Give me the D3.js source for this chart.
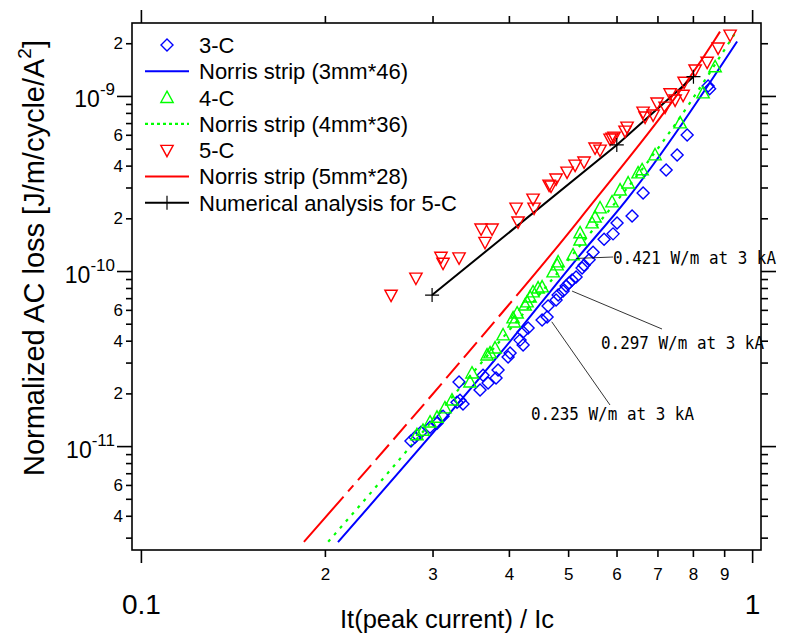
<!DOCTYPE html>
<html><head><meta charset="utf-8">
<script src="https://cdn.jsdelivr.net/npm/d3@7"></script>
<style>
body{margin:0;background:#fff}
svg{display:block}
text{font-family:"Liberation Sans",Arial,sans-serif;fill:#000}
</style>
</head><body>
<svg id="c" width="787" height="635"></svg>
<script>
// ---------------- data ----------------
const xMajorTicks = [0.1, 1];
const xMajorLabels = ["0.1", "1"];
const xMinorTicks = [0.2, 0.3, 0.4, 0.5, 0.6, 0.7, 0.8, 0.9];
const xMinorLabels = ["2", "3", "4", "5", "6", "7", "8", "9"];
const yMajorTicks = [1e-11, 1e-10, 1e-9];
const yMajorExponents = ["-11", "-10", "-9"];
const yMinorTicks = [3e-12,4e-12,5e-12,6e-12,7e-12,8e-12,9e-12,
  2e-11,3e-11,4e-11,5e-11,6e-11,7e-11,8e-11,9e-11,
  2e-10,3e-10,4e-10,5e-10,6e-10,7e-10,8e-10,9e-10,2e-9];
const yMinorLabels = ["","4","","6","","","",
  "2","","4","","6","","","",
  "2","","4","","6","","","",
  "2"];

// 3-C (diamonds)
const c3x = [0.8472,0.852,0.7829,0.7539,0.7233,0.6632,0.6362,0.6012,0.5922,0.5725,0.5493,0.5411,0.5309,0.5270,0.5152,0.5075,0.5018,0.4962,0.4906,0.4815,0.4778,0.4636,0.4619,0.4533,0.4300,0.4220,0.4172,0.4220,0.4018,0.3988,0.3840,0.3629,0.3698,0.3811,0.3588,0.3315,0.3327,0.3365,0.3290,0.3121,0.3051,0.2972,0.2872,0.2808,0.2766];
const c3y = [1.14e-9,1.10e-9,5.98e-10,4.60e-10,3.78e-10,2.79e-10,2.06e-10,1.88e-10,1.63e-10,1.52e-10,1.28e-10,1.16e-10,1.08e-10,1.04e-10,9.24e-11,8.88e-11,8.54e-11,8.21e-11,7.68e-11,7.29e-11,6.83e-11,6.31e-11,5.46e-11,5.25e-11,4.72e-11,4.48e-11,4.03e-11,3.78e-11,3.40e-11,3.23e-11,2.72e-11,2.54e-11,2.29e-11,2.45e-11,2.09e-11,2.32e-11,1.83e-11,1.74e-11,1.78e-11,1.48e-11,1.35e-11,1.28e-11,1.20e-11,1.125e-11,1.07e-11];

// 4-C (up triangles)
const c4x = [0.8698,0.8313,0.7625,0.6937,0.6607,0.6508,0.6268,0.6081,0.5900,0.5639,0.5534,0.5472,0.5230,0.5230,0.5094,0.4815,0.4797,0.4725,0.4533,0.4465,0.4381,0.4332,0.4284,0.4252,0.4126,0.4064,0.4080,0.3913,0.3797,0.3726,0.3684,0.3481,0.3455,0.3228,0.3144,0.3051,0.2972,0.2894,0.2829];
const c4y = [1.465e-9,1.04e-9,7.01e-10,4.60e-10,3.78e-10,3.63e-10,3.18e-10,2.90e-10,2.48e-10,2.29e-10,2.03e-10,1.88e-10,1.65e-10,1.50e-10,1.235e-10,1.126e-10,1.082e-10,9.87e-11,8.10e-11,7.99e-11,7.59e-11,7.10e-11,6.65e-11,6.39e-11,5.75e-11,5.39e-11,5.11e-11,4.31e-11,3.63e-11,3.40e-11,3.31e-11,2.61e-11,2.32e-11,1.83e-11,1.65e-11,1.46e-11,1.37e-11,1.23e-11,1.16e-11];

// 5-C (down triangles)
const c5x = [0.2566,0.2818,0.3097,0.3121,0.3315,0.3602,0.3754,0.3656,0.4110,0.4140,0.4381,0.4398,0.4654,0.4688,0.4778,0.4980,0.5133,0.5309,0.5534,0.5639,0.5856,0.5900,0.5944,0.6196,0.6243,0.6632,0.6682,0.6887,0.6991,0.7205,0.7342,0.7482,0.7711,0.7740,0.8067,0.8440,0.8797,0.9204];
const c5y = [7.29e-11,9.12e-11,1.20e-10,1.11e-10,1.19e-10,1.74e-10,1.74e-10,1.46e-10,2.29e-10,1.91e-10,2.58e-10,2.29e-10,3.10e-10,3.06e-10,3.36e-10,3.68e-10,4.03e-10,4.20e-10,5.05e-10,4.91e-10,5.68e-10,5.75e-10,5.83e-10,6.31e-10,6.65e-10,8.10e-10,7.59e-10,7.79e-10,9.12e-10,8.65e-10,1.03e-9,9.49e-10,1.01e-9,1.20e-9,1.41e-9,1.56e-9,1.88e-9,2.23e-9];

// Norris strip curves
const n3x = [0.2101,0.3913,0.5164,0.6235,0.945];
const n3y = [2.83e-12,3.54e-11,1.171e-10,2.56e-10,2.048e-9];
const n4x = [0.2025,0.2587,0.3245,0.5,0.7433,0.944];
const n4y = [2.84e-12,7.62e-12,1.943e-11,1.156e-10,6.65e-10,2.367e-9];
const n5x = [0.1848,0.2144,0.2556,0.3349,0.5231,0.8643,0.886];
const n5y = [2.84e-12,5.13e-12,1.035e-11,3.10e-11,1.995e-10,2.035e-9,2.33e-9];

// Numerical analysis for 5-C
const numx = [0.2995,0.6006,0.8017];
const numy = [7.29e-11,5.25e-10,1.289e-9];

const legendLabels = ["3-C","Norris strip (3mm*46)","4-C","Norris strip (4mm*36)","5-C","Norris strip (5mm*28)","Numerical analysis for 5-C"];
const notes = ["0.421 W/m at 3 kA","0.297 W/m at 3 kA","0.235 W/m at 3 kA"];
const noteAnchorX = [0.5164,0.5075,0.4701];
const noteAnchorY = [1.18e-10,7.68e-11,5.13e-11];

// ---------------- drawing ----------------
const svg = d3.select("#c");
const L=132, R=761, T=23, B=550;
const x = d3.scaleLog().domain([0.0967,1.034]).range([L,R]);
const y = d3.scaleLog().domain([2.55e-12,2.61e-9]).range([B,T]);

const BLUE="#0000ff", GREEN="#00ff00", RED="#ff0000";

function styleAxis(g){ g.select(".domain").remove(); g.selectAll(".tick line").attr("stroke","#000").attr("stroke-width",1.6); }

// bottom
svg.append("g").attr("transform",`translate(0,${B})`)
  .call(d3.axisBottom(x).tickValues(xMajorTicks).tickSize(13).tickFormat((d,i)=>xMajorLabels[i]).tickPadding(31))
  .call(styleAxis).call(g=>g.selectAll("text").attr("font-size",28).attr("font-family","Liberation Sans"));
svg.append("g").attr("transform",`translate(0,${B})`)
  .call(d3.axisBottom(x).tickValues(xMinorTicks).tickSize(7).tickFormat((d,i)=>xMinorLabels[i]).tickPadding(11))
  .call(styleAxis).call(g=>g.selectAll("text").attr("font-size",17).attr("font-family","Liberation Sans"));
// top
svg.append("g").attr("transform",`translate(0,${T})`)
  .call(d3.axisTop(x).tickValues(xMajorTicks).tickSize(13).tickFormat(""))
  .call(styleAxis);
svg.append("g").attr("transform",`translate(0,${T})`)
  .call(d3.axisTop(x).tickValues(xMinorTicks).tickSize(7).tickFormat(""))
  .call(styleAxis);
// left
const gyMaj = svg.append("g").attr("transform",`translate(${L},0)`)
  .call(d3.axisLeft(y).tickValues(yMajorTicks).tickSize(15).tickFormat(""))
  .call(styleAxis);
gyMaj.selectAll(".tick").each(function(d,i){
  const t = d3.select(this).append("text").attr("x",-17).attr("y",11).attr("text-anchor","end").attr("font-size",23);
  t.append("tspan").text("10");
  t.append("tspan").attr("dy",-12).attr("font-size",17).text(yMajorExponents[i]);
});
svg.append("g").attr("transform",`translate(${L},0)`)
  .call(d3.axisLeft(y).tickValues(yMinorTicks).tickSize(6).tickFormat((d,i)=>yMinorLabels[i]).tickPadding(3))
  .call(styleAxis).call(g=>g.selectAll("text").attr("font-size",17).attr("font-family","Liberation Sans"));
// right
svg.append("g").attr("transform",`translate(${R},0)`)
  .call(d3.axisRight(y).tickValues(yMajorTicks).tickSize(15).tickFormat(""))
  .call(styleAxis);
svg.append("g").attr("transform",`translate(${R},0)`)
  .call(d3.axisRight(y).tickValues(yMinorTicks).tickSize(7).tickFormat(""))
  .call(styleAxis);

// frame
svg.append("rect").attr("x",L).attr("y",T).attr("width",R-L).attr("height",B-T)
  .attr("fill","none").attr("stroke","#000").attr("stroke-width",1.6);

// axis titles
svg.append("text").attr("x",447).attr("y",628).attr("text-anchor","middle").attr("font-size",25.5).text("It(peak current) / Ic");
const yt = svg.append("text").attr("transform","translate(44,258) rotate(-90)").attr("text-anchor","middle").attr("font-size",29);
yt.append("tspan").text("Normalized AC loss [J/m/cycle/A");
yt.append("tspan").attr("dy",-13).attr("font-size",19).text("2");
yt.append("tspan").attr("dy",13).text("]");

const plot = svg.append("g");
const line = d3.line().x(d=>x(d[0])).y(d=>y(d[1])).curve(d3.curveMonotoneX);
const zip=(a,b)=>a.map((v,i)=>[v,b[i]]);

// Norris lines
plot.append("path").attr("d",line(zip(n3x,n3y))).attr("fill","none").attr("stroke",BLUE).attr("stroke-width",2);
plot.append("path").attr("d",line(zip(n4x,n4y))).attr("fill","none").attr("stroke",GREEN).attr("stroke-width",2.2).attr("stroke-dasharray","3,6");
plot.append("path").attr("d",line(zip(n5x,n5y))).attr("fill","none").attr("stroke",RED).attr("stroke-width",2).attr("stroke-dasharray","60,7,8,7,20,7,20,7,20,7,20,7,20,7,20,7,20,7,20,7,20,7,1000");
// numerical
plot.append("path").attr("d",d3.line().x(d=>x(d[0])).y(d=>y(d[1]))(zip(numx,numy))).attr("fill","none").attr("stroke","#000").attr("stroke-width",2);

// markers
const diamond = s=>`M0,${-s}L${s},0L0,${s}L${-s},0Z`;
const triUp = s=>`M0,${-s}L${s*0.95},${s*0.75}L${-s*0.95},${s*0.75}Z`;
const triDown = s=>`M0,${s}L${s*0.95},${-s*0.75}L${-s*0.95},${-s*0.75}Z`;

plot.selectAll(".d3c").data(zip(c3x,c3y)).join("path").attr("class","d3c")
  .attr("transform",d=>`translate(${x(d[0])},${y(d[1])})`).attr("d",diamond(6))
  .attr("fill","none").attr("stroke",BLUE).attr("stroke-width",1.4);
plot.selectAll(".d4c").data(zip(c4x,c4y)).join("path").attr("class","d4c")
  .attr("transform",d=>`translate(${x(d[0])},${y(d[1])})`).attr("d",triUp(6.5))
  .attr("fill","none").attr("stroke",GREEN).attr("stroke-width",1.4);
plot.selectAll(".d5c").data(zip(c5x,c5y)).join("path").attr("class","d5c")
  .attr("transform",d=>`translate(${x(d[0])},${y(d[1])})`).attr("d",triDown(6.5))
  .attr("fill","none").attr("stroke",RED).attr("stroke-width",1.4);
plot.selectAll(".dnum").data(zip(numx,numy)).join("path").attr("class","dnum")
  .attr("transform",d=>`translate(${x(d[0])},${y(d[1])})`).attr("d","M-7,0H7M0,-7V7")
  .attr("stroke","#000").attr("stroke-width",1.2);

// annotations
const notePos = [[613,258],[601,343],[531,414]];
const noteEnd = [[613,257],[662,329],[610,405]];
notes.forEach((t,i)=>{
  plot.append("line").attr("x1",x(noteAnchorX[i])).attr("y1",y(noteAnchorY[i]))
    .attr("x2",noteEnd[i][0]).attr("y2",noteEnd[i][1]).attr("stroke","#000").attr("stroke-width",0.8);
  svg.append("text").attr("x",notePos[i][0]).attr("y",notePos[i][1]).attr("dy","0.36em")
    .style("font-family","'DejaVu Sans Mono',monospace").attr("font-size",18)
    .attr("textLength",163).attr("lengthAdjust","spacingAndGlyphs").text(t);
});

// legend
const lg = svg.append("g");
const ly0 = 45, ldy = 26.3;
legendLabels.forEach((t,i)=>{
  const yy = ly0+i*ldy;
  lg.append("text").attr("x",199).attr("y",yy).attr("dy","0.36em").attr("font-size",22).text(t);
});
lg.append("path").attr("transform",`translate(167,${ly0})`).attr("d",diamond(6)).attr("fill","none").attr("stroke",BLUE).attr("stroke-width",1.4);
lg.append("line").attr("x1",145).attr("x2",189).attr("y1",ly0+ldy).attr("y2",ly0+ldy).attr("stroke",BLUE).attr("stroke-width",2);
lg.append("path").attr("transform",`translate(167,${ly0+2*ldy})`).attr("d",triUp(6.5)).attr("fill","none").attr("stroke",GREEN).attr("stroke-width",1.4);
lg.append("line").attr("x1",145).attr("x2",189).attr("y1",ly0+3*ldy).attr("y2",ly0+3*ldy).attr("stroke",GREEN).attr("stroke-width",2.2).attr("stroke-dasharray","3,3");
lg.append("path").attr("transform",`translate(167,${ly0+4*ldy})`).attr("d",triDown(6.5)).attr("fill","none").attr("stroke",RED).attr("stroke-width",1.4);
lg.append("line").attr("x1",145).attr("x2",189).attr("y1",ly0+5*ldy).attr("y2",ly0+5*ldy).attr("stroke",RED).attr("stroke-width",2);
lg.append("line").attr("x1",145).attr("x2",189).attr("y1",ly0+6*ldy).attr("y2",ly0+6*ldy).attr("stroke","#000").attr("stroke-width",2);
lg.append("path").attr("transform",`translate(167,${ly0+6*ldy})`).attr("d","M0,-7V7").attr("stroke","#000").attr("stroke-width",1.2);
</script>
</body></html>
